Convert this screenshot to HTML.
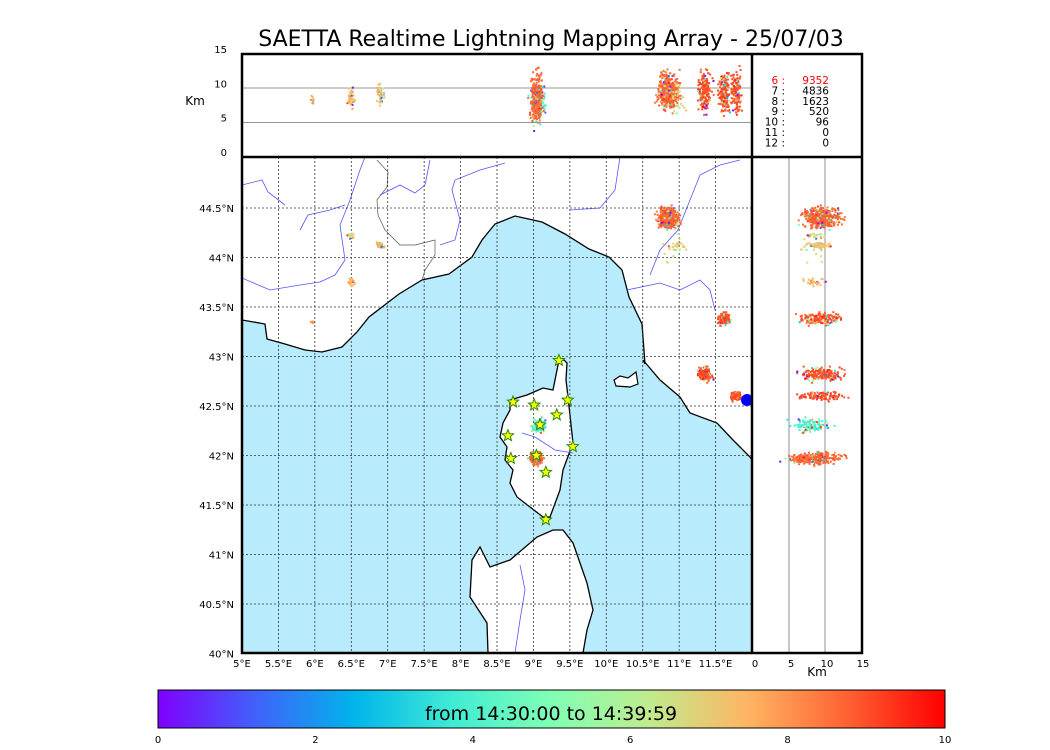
<!DOCTYPE html>
<html><head><meta charset="utf-8"><style>
html,body{margin:0;padding:0;background:#fff;}
svg{display:block;font-family:"DejaVu Sans","Liberation Sans",sans-serif;}
</style></head><body>
<svg id="chart" width="1050" height="750" viewBox="0 0 1050 750">
<defs>
<linearGradient id="rb" x1="0" x2="1" y1="0" y2="0">
<stop offset="0" stop-color="#8000ff"/><stop offset="0.125" stop-color="#4062fa"/><stop offset="0.25" stop-color="#00b5eb"/><stop offset="0.375" stop-color="#40ecd4"/><stop offset="0.5" stop-color="#80ffb4"/><stop offset="0.625" stop-color="#c0eb8d"/><stop offset="0.75" stop-color="#ffb462"/><stop offset="0.875" stop-color="#ff6232"/><stop offset="1" stop-color="#ff0000"/>
</linearGradient>
<clipPath id="mapclip"><rect x="242" y="157" width="510" height="496"/></clipPath>
<clipPath id="topclip"><rect x="242" y="54" width="510" height="103"/></clipPath>
<clipPath id="rclip"><rect x="752" y="157" width="110" height="496"/></clipPath>
</defs>
<text x="551" y="46" font-size="22" text-anchor="middle" font-family="DejaVu Sans, sans-serif">SAETTA Realtime Lightning Mapping Array - 25/07/03</text>

<g clip-path="url(#mapclip)">
<rect x="242" y="157" width="510" height="496" fill="#b8ecfc"/>
<polygon fill="#fff" stroke="#000" stroke-width="1.3" points="242,157 242,320 265,324 267,339 285,344 305,350 322,352 342,347 357,332 369,317 382,307 399,294 422,280 449,274 472,257 482,240 495,224 515,216 542,222 565,234 589,249 609,257 622,270 629,297 642,324 645,364 643,360 660,380 680,397 690,413 717,423 733,440 750,457 752,460 752,157"/>
<polygon fill="#fff" stroke="#000" stroke-width="1.3" points="559,360 564,360 567,363 566,380 568,397 573,443 563,470 560,490 550,517 543,517 517,497 510,483 513,470 505,460 507,447 500,437 503,423 510,410 510,400 527,395 543,388 553,390 556,375"/>
<polygon fill="#fff" stroke="#000" stroke-width="1.3" points="563,530 573,543 580,563 587,583 593,610 587,630 583,653 488,653 487,623 470,597 472,560 480,547 490,567 510,560 537,537 553,530"/>
<polygon fill="#fff" stroke="#000" stroke-width="1.2" points="614,380 620,376 628,378 636,372 638,384 630,387 616,386"/>
<g fill="none" stroke="#55f" stroke-width="0.8">
<polyline points="242,185 262,180 268,192 285,205"/>
<polyline points="242,278 270,290 300,285 320,282 335,275 345,260 340,225 350,200 360,170 365,157"/>
<polyline points="300,230 308,215 330,210 345,205"/>
<polyline points="380,195 400,185 415,193 425,185 430,160"/>
<polyline points="440,245 455,240 460,220 452,190 455,180 480,170 505,163"/>
<polyline points="570,210 600,208 615,190 620,157"/>
<polyline points="650,275 660,250 678,230 690,200 700,175 720,165 740,160"/>
<polyline points="627,290 660,283 680,290 700,280 710,290 715,310"/>
<polyline points="520,565 525,590 520,620 515,653"/>
<polyline points="522,433 535,437 555,450 573,453"/>
</g>
<g fill="none" stroke="#555" stroke-width="0.7">
<polyline points="377,160 388,172 387,187 377,200 378,215 385,230 400,245 415,245 435,240 435,255 425,270 422,280"/>
</g>
<g id="grid" stroke="#333" stroke-width="0.8" stroke-dasharray="2,2"></g>
<g id="mapdots"></g>
<g id="stars"></g>
</g>
<circle cx="747" cy="400" r="6" fill="#0000ff"/>

<g>
<line x1="242" x2="752" y1="88" y2="88" stroke="#777" stroke-width="0.8"/>
<line x1="242" x2="752" y1="122.6" y2="122.6" stroke="#777" stroke-width="0.8"/>
<g id="topdots" clip-path="url(#topclip)"></g>
</g>
<g>
<line x1="789" x2="789" y1="157" y2="653" stroke="#777" stroke-width="0.8"/>
<line x1="825" x2="825" y1="157" y2="653" stroke="#777" stroke-width="0.8"/>
<g id="rdots" clip-path="url(#rclip)"></g>
</g>
<g fill="none" stroke="#000" stroke-width="2.5">
<rect x="242" y="54" width="620" height="599"/>
<line x1="242" x2="862" y1="157" y2="157"/>
<line x1="752" x2="752" y1="54" y2="653"/>
</g>
<g id="counts" font-size="10.5" font-family="DejaVu Sans, sans-serif"></g>
<g id="axes" font-size="10" fill="#000"></g>
<text x="195" y="105" font-size="12" text-anchor="middle">Km</text>
<text x="817" y="676" font-size="12" text-anchor="middle">Km</text>

<g>
<rect x="158" y="690" width="787" height="38" fill="url(#rb)" stroke="#000" stroke-width="1"/>
<text x="551" y="720" font-size="19" text-anchor="middle">from 14:30:00 to 14:39:59</text>
<g id="cbticks" font-size="10" text-anchor="middle"></g>
</g>
</svg>
<script>
// Station positions (lon, lat)
const stationLon = [9.35, 8.72, 9.01, 9.47, 9.32, 9.09, 8.65, 9.54, 8.69, 9.04, 9.17, 9.17];
const stationLat = [42.96, 42.54, 42.51, 42.56, 42.41, 42.31, 42.20, 42.09, 41.97, 42.00, 41.83, 41.35];
// Lightning source clusters
const clusterLon = [10.85, 11.62, 11.35, 11.78, 9.09, 9.04, 6.9, 6.5, 6.5, 5.97, 10.95];
const clusterLat = [44.40, 43.38, 42.82, 42.60, 42.30, 41.97, 44.13, 44.22, 43.75, 43.35, 44.10];
const clusterAlt = [9.5, 9.5, 9.5, 9.5, 8.0, 8.5, 9.0, 8.5, 8.5, 8.5, 9.0];
const clusterAltSpread = [2.2, 2.4, 2.4, 2.4, 2.2, 3.0, 1.5, 1.2, 1.2, 1.0, 2.0];
const clusterTime = [8.7, 9.0, 9.0, 9.0, 4.0, 8.7, 7.5, 6.5, 7.5, 8.0, 7.0];
const clusterCount = [420, 160, 160, 120, 120, 260, 40, 20, 25, 8, 30];
const clusterSpread = [0.12, 0.07, 0.08, 0.06, 0.08, 0.07, 0.04, 0.04, 0.05, 0.02, 0.15];
// Station counts table
const countLabels = ["6", "7", "8", "9", "10", "11", "12"];
const countValues = [9352, 4836, 1623, 520, 96, 0, 0];
// Axis tick labels
const lonTicks = [5, 5.5, 6, 6.5, 7, 7.5, 8, 8.5, 9, 9.5, 10, 10.5, 11, 11.5];
const latTicks = [40, 40.5, 41, 41.5, 42, 42.5, 43, 43.5, 44, 44.5];
const altTicks = [0, 5, 10, 15];
const cbTicks = [0, 2, 4, 6, 8, 10];

const NS = "http://www.w3.org/2000/svg";
const X = lon => 242 + (lon - 5) * 72.86;
const Y = lat => 158.5 + (45 - lat) * 99;
const TY = alt => 157 - alt * 6.87;
const RX = alt => 753 + alt * 7.2;
const CB = t => 158 + t * 78.7;
function mk(tag, attrs, parent){const e=document.createElementNS(NS,tag);for(const k in attrs)e.setAttribute(k,attrs[k]);parent.appendChild(e);return e;}
function rainbow(t){const x=Math.max(0,Math.min(1,t/10));const r=Math.min(1,Math.abs(2*x-0.5)),g=Math.sin(Math.PI*x),b=Math.cos(Math.PI*x/2);return `rgb(${Math.round(r*255)},${Math.round(g*255)},${Math.round(b*255)})`;}
let seed=12345;function rnd(){seed=(seed*1103515245+12345)%2147483648;return seed/2147483648;}
function gauss(){return (rnd()+rnd()+rnd()-1.5)/1.5*1.7;}

// grid
const grid=document.getElementById('grid');
lonTicks.forEach(l=>{if(l>5){const g=mk('line',{x1:X(l),x2:X(l),y1:157,y2:653},grid);}});
latTicks.forEach(l=>{if(l>40){const g=mk('line',{x1:242,x2:752,y1:Y(l),y2:Y(l)},grid);}});

// dots
const md=document.getElementById('mapdots'),td=document.getElementById('topdots'),rd=document.getElementById('rdots');
for(let c=0;c<clusterLon.length;c++){
  for(let i=0;i<clusterCount[c];i++){
    const lon=clusterLon[c]+gauss()*clusterSpread[c];
    const lat=clusterLat[c]+gauss()*clusterSpread[c]*0.7;
    const alt=clusterAlt[c]+gauss()*clusterAltSpread[c];
    const t=rnd()<0.78?clusterTime[c]+gauss()*0.3:rnd()*10;
    const col=rainbow(t);
    const a=mk('rect',{x:X(lon)-1,y:Y(lat)-1,width:2,height:2,fill:col},md);
    
    const b=mk('rect',{x:X(lon)-1,y:TY(alt)-1,width:2,height:2,fill:col},td);
    
    const d=mk('rect',{x:RX(alt)-1,y:Y(lat)-1,width:2,height:2,fill:col},rd);
    
  }
}
// stars
const st=document.getElementById('stars');
function starPts(cx,cy,R,r){let p=[];for(let i=0;i<10;i++){const a=-Math.PI/2+i*Math.PI/5;const rr=i%2?r:R;p.push((cx+rr*Math.cos(a)).toFixed(1)+','+(cy+rr*Math.sin(a)).toFixed(1));}return p.join(' ');}
stationLon.forEach((l,i)=>{const s=mk('polygon',{points:starPts(X(l),Y(stationLat[i]),6,2.6),fill:'#ffff00',stroke:'#2a8a00','stroke-width':1},st);
});

// counts table
const ct=document.getElementById('counts');
countLabels.forEach((l,i)=>{const y=84+i*10.4;const col=i===0?'#ff0000':'#000';
const a=mk('text',{x:785,y:y,'text-anchor':'end',fill:col},ct);a.textContent=l+' :';
const b=mk('text',{x:829,y:y,'text-anchor':'end',fill:col},ct);b.textContent=countValues[i];});

// axes labels
const ax=document.getElementById('axes');
lonTicks.forEach(l=>{const t=mk('text',{x:X(l),y:667,'text-anchor':'middle'},ax);t.textContent=l+'°E';});
latTicks.forEach(l=>{const t=mk('text',{x:234,y:Y(l)+4,'text-anchor':'end'},ax);t.textContent=l+'°N';});
altTicks.forEach(a=>{const t=mk('text',{x:227,y:TY(a)-1,'text-anchor':'end'},ax);t.textContent=a;
const u=mk('text',{x:RX(a)+2,y:667,'text-anchor':'middle'},ax);u.textContent=a;});
const cb=document.getElementById('cbticks');
cbTicks.forEach(v=>{const t=mk('text',{x:CB(v),y:743},cb);t.textContent=v;});
</script>
</body></html>
